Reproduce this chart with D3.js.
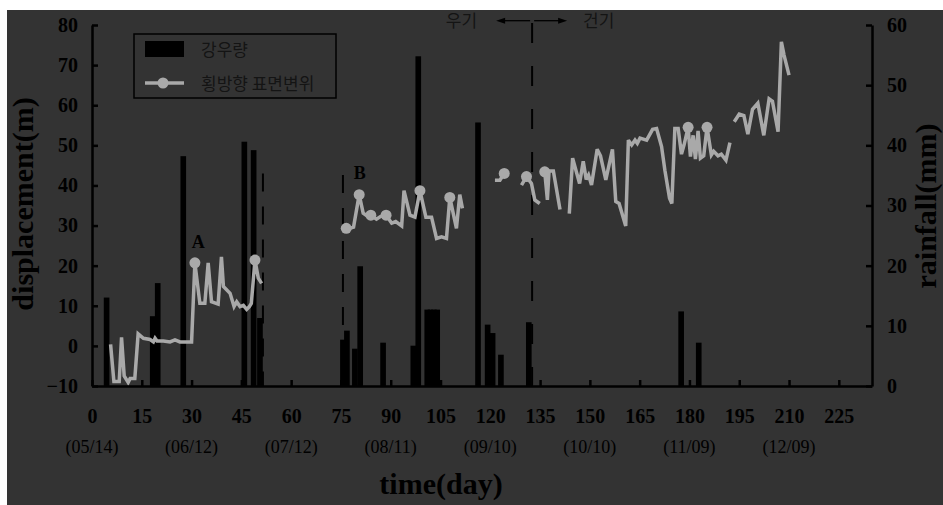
<!DOCTYPE html>
<html>
<head>
<meta charset="utf-8">
<script src="https://cdn.jsdelivr.net/npm/d3@7"></script>
<style>
  html, body { margin: 0; padding: 0; background: #ffffff; }
  svg { display: block; }
</style>
</head>
<body>
<svg id="chart" width="943" height="505"></svg>
<script>
// ---- data ----
const dayTicks = [0, 15, 30, 45, 60, 75, 90, 105, 120, 135, 150, 165, 180, 195, 210, 225];
const dateDays = [0, 30, 60, 90, 120, 150, 180, 210];
const dateLabels = ["(05/14)", "(06/12)", "(07/12)", "(08/11)", "(09/10)", "(10/10)", "(11/09)", "(12/09)"];
const dispTicks = [-10, 0, 10, 20, 30, 40, 50, 60, 70, 80];
const rainTicks = [0, 10, 20, 30, 40, 50, 60];

// daily rainfall (mm)
const rainDays   = [4.4, 18.3, 19.8, 27.5, 45.9, 48.7, 50.6, 75.6, 76.8, 79.2, 80.8, 87.7, 96.8, 98.3, 101, 102, 103, 104, 116.3, 119.2, 120.7, 123.2, 131.6, 177.5, 182.8];
const rainValues = [14.7, 11.6, 17.1, 38.2, 40.6, 39.2, 11.3, 7.7, 9.2, 6.2, 19.9, 7.2, 6.7, 54.8, 12.7, 12.7, 12.7, 12.7, 43.8, 10.2, 8.8, 5.2, 10.6, 12.4, 7.2];

// lateral surface displacement (m); null marks a break in the record
const dispDays = [
  5.6, 6.6, 8.2, 8.9, 9.7, 10.9, 11.5, 12.9, 13.9, 15.5, 17.5, 18.5, 19.0, 19.6, 21.5, 23.5, 25.0, 26.5, 30.0,
  31.0, 32.5, 34.0, 35.0, 36.0, 38.0, 39.0, 39.6, 41.6, 42.8, 43.6, 44.6, 45.6, 46.6, 47.4, 48.0, 49.1, 50.1, 51.1,
  null,
  76.2, 76.6, 77.7, 78.8, 80.5, 81.7, 82.6, 84.0, 85.7, 87.0, 88.6, 90.3, 91.5, 93.3, 94.0, 95.8, 97.3, 98.8,
  100.6, 102.3, 103.8, 105.3, 106.8, 107.8, 109.8, 110.8, 111.6,
  null,
  121.4, 122.9, 124.2,
  null,
  129.4, 130.9, 132.4, 133.4, 134.9,
  null,
  136.4, 137.2, 137.7, 139.0, 141.0,
  null,
  143.8, 144.8, 146.9, 148.0, 148.9, 149.6, 150.5, 152.2, 153.2, 154.8, 156.8, 157.8, 158.8, 160.8, 161.6, 162.6,
  163.6, 164.3, 165.1, 167.1, 168.9, 170.1, 171.6, 172.6, 174.0, 174.7, 175.6, 176.6, 177.6, 178.4, 179.6, 180.3,
  181.1, 181.8, 182.6, 183.3, 184.3, 185.3, 186.6, 187.3, 188.6, 189.6, 191.0, 192.2,
  null,
  193.5, 195.0, 196.4, 197.6, 199.0, 200.6, 202.4, 204.0, 205.0, 206.7, 207.7, 208.5, 210.0
];
const dispValues = [
  0.4, -8.9, -8.9, 2.1, -7.5, -9.1, -8.1, -8.1, 3.0, 1.9, 1.6, 1.0, 1.9, 1.2, 1.2, 1.0, 1.5, 1.0, 1.0,
  20.7, 10.6, 10.6, 20.7, 11.0, 10.4, 22.2, 14.8, 13.1, 9.8, 11.0, 9.8, 10.1, 9.1, 9.8, 10.6, 21.4, 16.9, 15.6,
  null,
  29.0, 29.3, 29.3, 29.6, 37.7, 33.1, 32.6, 32.6, 31.6, 32.3, 32.6, 30.6, 31.0, 29.9, 38.7, 32.6, 32.1, 38.7,
  32.1, 32.1, 26.8, 27.2, 26.8, 37.0, 29.3, 37.7, 34.3,
  null,
  41.3, 41.3, 43.0,
  null,
  40.1, 42.2, 40.5, 36.4, 35.5,
  null,
  43.4, 36.4, 43.6, 43.6, 34.0,
  null,
  33.0, 46.8, 40.5, 46.0, 41.5, 42.6, 40.1, 49.0, 47.4, 41.4, 49.0, 36.0, 35.5, 29.9, 51.3, 50.1,
  51.3, 50.5, 51.8, 51.3, 54.0, 54.2, 49.7, 43.8, 36.8, 35.5, 54.2, 54.2, 47.8, 50.2, 54.5, 47.2,
  52.5, 46.6, 53.6, 46.8, 47.4, 54.5, 47.6, 48.5, 47.4, 47.8, 46.3, 50.7,
  null,
  55.9, 57.8, 57.4, 52.8, 59.0, 60.5, 52.5, 61.6, 61.0, 53.4, 75.8, 72.5, 67.5
];

// surveyed points drawn with a marker
const markerDays = [31.0, 49.1, 76.6, 80.5, 84.0, 88.6, 98.8, 107.8, 124.2, 130.9, 136.4, 179.6, 185.3];

// point labels and period boundaries
const pointLabels = ["A", "B"];
const pointLabelDays = [32.0, 80.7];
const pointLabelValues = [24.5, 41.5];
const periodLineDays = [51.5, 75.6];
const periodLineTops = [43.0, 42.6];
const seasonBoundaryDay = 132.6;
const seasonNames = ["우기", "건기"];

// ---- drawing ----
const svg = d3.select("#chart");
const W = 943, H = 505;
const serif = "'Liberation Serif', 'Times New Roman', serif";
const hangul = "'Noto Sans CJK KR', 'Noto Sans', sans-serif";

svg.append("rect").attr("x", 7).attr("y", 10).attr("width", W - 7).attr("height", H - 10).attr("fill", "#333333");

const x = d3.scaleLinear().domain([0, 235]).range([92, 872]);
const yL = d3.scaleLinear().domain([-10, 80]).range([386, 25]);
const yR = d3.scaleLinear().domain([0, 60]).range([386, 25]);

// rainfall bars
const rain = rainDays.map((d, i) => ({ day: d, mm: rainValues[i] }));
svg.append("g").selectAll("rect").data(rain).join("rect")
  .attr("x", d => x(d.day - 0.85))
  .attr("width", d => x(d.day + 0.85) - x(d.day - 0.85))
  .attr("y", d => yR(d.mm))
  .attr("height", d => yR(0) - yR(d.mm))
  .attr("fill", "#000");

// period boundaries (dashed)
svg.append("g").selectAll("line").data(periodLineDays).join("line")
  .attr("x1", d => x(d)).attr("x2", d => x(d))
  .attr("y1", (d, i) => yL(periodLineTops[i])).attr("y2", yL(-10))
  .attr("stroke", "#000").attr("stroke-width", 2).attr("stroke-dasharray", "18,15");

svg.append("line")
  .attr("x1", x(seasonBoundaryDay)).attr("x2", x(seasonBoundaryDay))
  .attr("y1", 23).attr("y2", yL(-10))
  .attr("stroke", "#000").attr("stroke-width", 2).attr("stroke-dasharray", "20,23");

// season arrows and names
const bx = x(seasonBoundaryDay), ay = 20.7;
const arrows = svg.append("g").attr("stroke", "#000").attr("fill", "#000");
arrows.append("line").attr("x1", bx - 2).attr("x2", bx - 30).attr("y1", ay).attr("y2", ay).attr("stroke-width", 1.3);
arrows.append("path").attr("d", `M${bx - 36},${ay} L${bx - 27},${ay - 3} L${bx - 27},${ay + 3} Z`).attr("stroke", "none");
arrows.append("line").attr("x1", bx + 2).attr("x2", bx + 29).attr("y1", ay).attr("y2", ay).attr("stroke-width", 1.3);
arrows.append("path").attr("d", `M${bx + 35},${ay} L${bx + 26},${ay - 3} L${bx + 26},${ay + 3} Z`).attr("stroke", "none");
svg.append("text").attr("x", bx - 55).attr("y", 27).attr("text-anchor", "end")
  .attr("font-family", hangul).attr("font-size", 17).attr("fill", "#141414").text(seasonNames[0]);
svg.append("text").attr("x", bx + 51).attr("y", 27)
  .attr("font-family", hangul).attr("font-size", 17).attr("fill", "#141414").text(seasonNames[1]);

// displacement line
const disp = dispDays.map((d, i) => ({ day: d, v: dispValues[i] }));
const line = d3.line().defined(d => d.v !== null).x(d => x(d.day)).y(d => yL(d.v));
svg.append("path").datum(disp).attr("d", line)
  .attr("fill", "none").attr("stroke", "#a9a9a9").attr("stroke-width", 3.5)
  .attr("stroke-linejoin", "miter").attr("stroke-miterlimit", 3);

const marked = disp.filter(d => d.v !== null && markerDays.includes(d.day));
svg.append("g").selectAll("circle").data(marked).join("circle")
  .attr("cx", d => x(d.day)).attr("cy", d => yL(d.v)).attr("r", 5.5).attr("fill", "#a9a9a9");

// point labels
svg.append("g").selectAll("text").data(pointLabels).join("text")
  .attr("x", (d, i) => x(pointLabelDays[i])).attr("y", (d, i) => yL(pointLabelValues[i]))
  .attr("text-anchor", "middle").attr("font-family", serif).attr("font-weight", "bold")
  .attr("font-size", 18).attr("fill", "#000").text(d => d);

// axes
function styleAxis(g) {
  g.select(".domain").attr("stroke", "#000").attr("stroke-width", 2.5);
  g.selectAll(".tick line").attr("stroke", "#000").attr("stroke-width", 2.5);
  g.selectAll(".tick text").attr("fill", "#000").attr("font-family", serif)
    .attr("font-weight", "bold").attr("font-size", 20);
}
svg.append("g").attr("transform", `translate(0,${yL(-10)})`)
  .call(d3.axisBottom(x).tickValues(dayTicks).tickSize(-6).tickSizeOuter(0).tickPadding(23))
  .call(styleAxis);
svg.append("g").attr("transform", `translate(${x(0)},0)`)
  .call(d3.axisLeft(yL).tickValues(dispTicks).tickSize(-6).tickSizeOuter(0).tickPadding(14))
  .call(styleAxis);
svg.append("g").attr("transform", `translate(${x(235)},0)`)
  .call(d3.axisRight(yR).tickValues(rainTicks).tickSize(-6).tickSizeOuter(0).tickPadding(15))
  .call(styleAxis);
svg.selectAll(".domain").attr("fill", "none");

// calendar dates under the day ticks
svg.append("g").selectAll("text").data(dateLabels).join("text")
  .attr("x", (d, i) => x(dateDays[i])).attr("y", 453)
  .attr("text-anchor", "middle").attr("font-family", serif).attr("font-size", 18)
  .attr("fill", "#000").text(d => d);

// axis titles
svg.append("text").attr("x", 441).attr("y", 494).attr("text-anchor", "middle")
  .attr("font-family", serif).attr("font-weight", "bold").attr("font-size", 30).attr("fill", "#000")
  .text("time(day)");
svg.append("text").attr("transform", "translate(33,204) rotate(-90)").attr("text-anchor", "middle")
  .attr("font-family", serif).attr("font-weight", "bold").attr("font-size", 30).attr("fill", "#000")
  .text("displacement(m)");
svg.append("text").attr("transform", "translate(936,206) rotate(-90)").attr("text-anchor", "middle")
  .attr("font-family", serif).attr("font-weight", "bold").attr("font-size", 30).attr("fill", "#000")
  .text("rainfall(mm)");

// legend
const lg = svg.append("g");
lg.append("rect").attr("x", 134).attr("y", 34).attr("width", 202).attr("height", 64)
  .attr("fill", "none").attr("stroke", "#000").attr("stroke-width", 1.5);
lg.append("rect").attr("x", 145).attr("y", 41).attr("width", 39).attr("height", 16).attr("fill", "#000");
lg.append("line").attr("x1", 145).attr("x2", 184).attr("y1", 83).attr("y2", 83)
  .attr("stroke", "#a9a9a9").attr("stroke-width", 3.5);
lg.append("circle").attr("cx", 163).attr("cy", 83).attr("r", 5.5).attr("fill", "#a9a9a9");
lg.append("text").attr("x", 201).attr("y", 56).attr("font-family", hangul).attr("font-size", 17)
  .attr("fill", "#141414").text("강우량");
lg.append("text").attr("x", 201).attr("y", 90).attr("font-family", hangul).attr("font-size", 17)
  .attr("fill", "#141414").text("횡방향 표면변위");
</script>
</body>
</html>
